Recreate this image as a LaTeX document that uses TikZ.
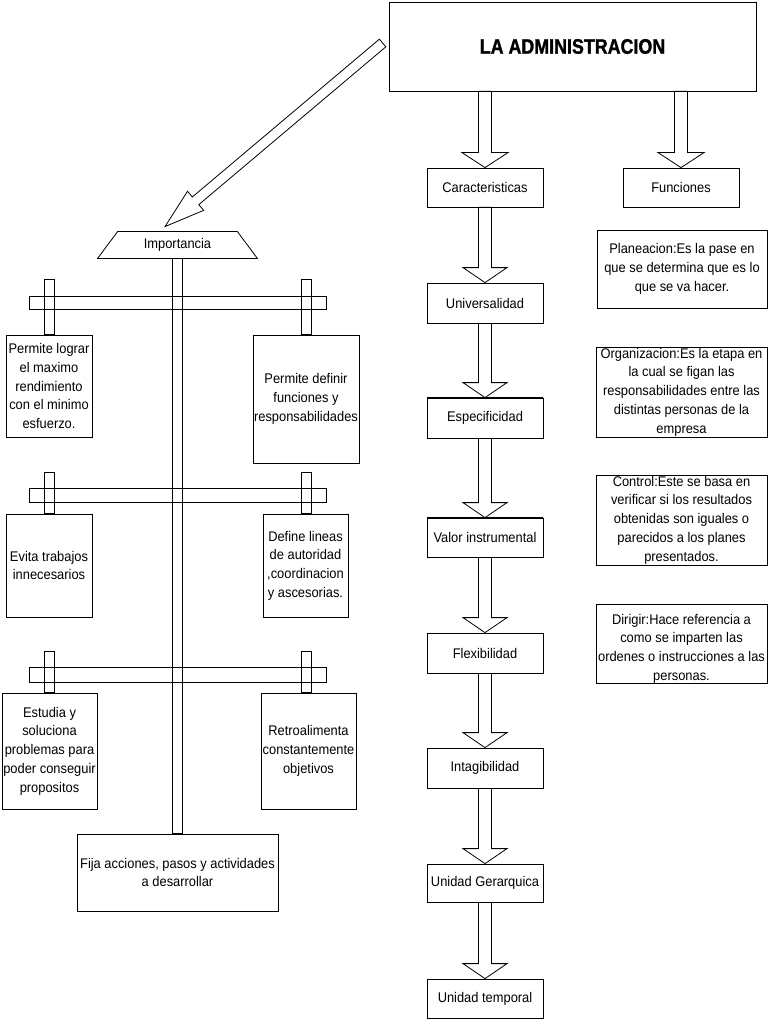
\documentclass[tikz,border=0pt]{standalone}
\usepackage{fontspec}
\setmainfont{Liberation Sans}[FakeStretch=0.92]
\newfontfamily\titlefont{Liberation Sans Bold}[FakeStretch=0.85,FakeBold=1.3]
\usetikzlibrary{calc}
% fat (block) arrow: #1 from, #2 to, #3 shaft half-width, #4 head half-width, #5 head length
\newcommand\fatarrow[5]{%
  \coordinate (fah) at ($(#2)!#5!(#1)$);
  \draw[fill=white] ($(#1)!#3!90:(#2)$) -- ($(fah)!#3!90:(#2)$) -- ($(fah)!#4!90:(#2)$) -- (#2)
    -- ($(fah)!#4!-90:(#2)$) -- ($(fah)!#3!-90:(#2)$) -- ($(#1)!#3!-90:(#2)$) -- cycle;
}
\begin{document}
\begin{tikzpicture}[x=1pt,y=-1pt,line width=0.8pt,
  box/.style={draw, rectangle, inner sep=0pt, align=center, font=\fontsize{14}{18.7}\selectfont},
  txt/.style={inner sep=0pt, align=center, font=\fontsize{14}{18.7}\selectfont}]
\fill[white] (0,0) rectangle (768,1024);
\useasboundingbox (0,0) rectangle (768,1024);

% ---- title and right column ----
\node[box, minimum width=367pt, minimum height=89pt, font=\titlefont\fontsize{21}{24}\selectfont] (title) at (572.5,46.5) {LA ADMINISTRACION};
\node[box, minimum width=116pt, minimum height=39pt] (cara) at (485,187.5) {Caracteristicas};
\node[box, minimum width=116pt, minimum height=39pt] (func) at (681,187.5) {Funciones};
\node[box, minimum width=116pt, minimum height=40pt] (univ) at (485,303) {Universalidad};
\node[box, minimum width=116pt, minimum height=40pt] (espe) at (485,418) {Especificidad};
\node[box, minimum width=116pt, minimum height=39pt] (valor) at (485,537.5) {Valor instrumental};
\node[box, minimum width=116pt, minimum height=40pt] (flex) at (485,653) {Flexibilidad};
\node[box, minimum width=116pt, minimum height=40pt] (intag) at (485,768) {Intagibilidad};
\node[box, minimum width=116pt, minimum height=38pt] (ugera) at (485,883) {Unidad Gerarquica};
\node[box, minimum width=116pt, minimum height=39pt] (utemp) at (485,998.5) {Unidad temporal};
\draw[line width=1.8pt] (espe.north west) -- (espe.north east);
\draw[line width=1.8pt] (valor.north west) -- (valor.north east);

\node[box, minimum width=170pt, minimum height=78pt] (plan) at (682,269) {Planeacion:Es la pase en\\que se determina que es lo\\que se va hacer.};
\node[box, minimum width=171pt, minimum height=90pt] (org) at (681.5,392) {Organizacion:Es la etapa en\\la cual se figan las\\responsabilidades entre las\\distintas personas de la\\empresa};
\node[box, minimum width=171pt, minimum height=90pt] (ctrl) at (681.5,520) {Control:Este se basa en\\verificar si los resultados\\obtenidas son iguales o\\parecidos a los planes\\presentados.};
\node[box, minimum width=171pt, minimum height=79pt] (dirig) at (681.5,643.5) {};
\node[txt] (dirigt) at ($(dirig.center)+(0,5)$) {Dirigir:Hace referencia a\\como se imparten las\\ordenes o instrucciones a las\\personas.};

\coordinate (t1) at (title.south -| cara.north);
\coordinate (t2) at (title.south -| func.north);
\fatarrow{t1}{cara.north}{6.5pt}{23pt}{15pt}
\fatarrow{t2}{func.north}{6.5pt}{23pt}{15pt}
\foreach \a/\b in {cara/univ,univ/espe,espe/valor,valor/flex,flex/intag,intag/ugera,ugera/utemp}
  {\fatarrow{\a.south}{\b.north}{6.5pt}{22pt}{15pt}}

% ---- left: importancia ----
\node[txt, minimum width=159pt, minimum height=26pt] (imp) at (177.5,245) {Importancia};
\draw ($(imp.south west)$) -- ($(imp.south east)$) -- ($(imp.north east)+(-20,0)$) -- ($(imp.north west)+(20,0)$) -- cycle;

\node[box, minimum width=201pt, minimum height=77pt] (fija) at (177.5,872.5) {Fija acciones, pasos y actividades\\a desarrollar};
\draw ($(imp.south)+(-5,0)$) rectangle ($(fija.north)+(5,0)$);

\node[box, minimum width=86pt, minimum height=102pt] (lograr) at (49,386) {Permite lograr\\el maximo\\rendimiento\\con el minimo\\esfuerzo.};
\node[box, minimum width=106pt, minimum height=128pt] (definir) at (306,399) {Permite definir\\funciones y\\responsabilidades};
\draw[line width=1.8pt] (definir.south west) -- (definir.south east);
\node[box, minimum width=86pt, minimum height=103pt] (evita) at (49,565.5) {Evita trabajos\\innecesarios};
\node[box, minimum width=85pt, minimum height=103pt] (lineas) at (305.5,565.5) {Define lineas\\de autoridad\\,coordinacion\\y ascesorias.};
\node[box, minimum width=95pt, minimum height=116pt] (estudia) at (49.5,751) {Estudia y\\soluciona\\problemas para\\poder conseguir\\propositos};
\node[box, minimum width=95pt, minimum height=116pt] (retro) at (308.5,751) {Retroalimenta\\constantemente\\objetivos};

% crossbars
\draw (29,296) rectangle (326,309);
\draw (29,488) rectangle (326,502);
\draw (29,667) rectangle (326,682);
% posts
\draw (44,279) rectangle (lograr.north -| 54,0);
\draw (301,279) rectangle (definir.north -| 311,0);
\draw (44,472) rectangle (evita.north -| 54,0);
\draw (301,472) rectangle (lineas.north -| 311,0);
\draw (44,651) rectangle (estudia.north -| 54,0);
\draw (301,651) rectangle (retro.north -| 311,0);

% diagonal arrow
\coordinate (dtail) at ($(title.west)+(-6,-3.5)$);
\coordinate (dtip) at ($(imp.north)+(-12.5,-5)$);
\fatarrow{dtail}{dtip}{5pt}{12.5pt}{40pt}
\end{tikzpicture}
\end{document}
